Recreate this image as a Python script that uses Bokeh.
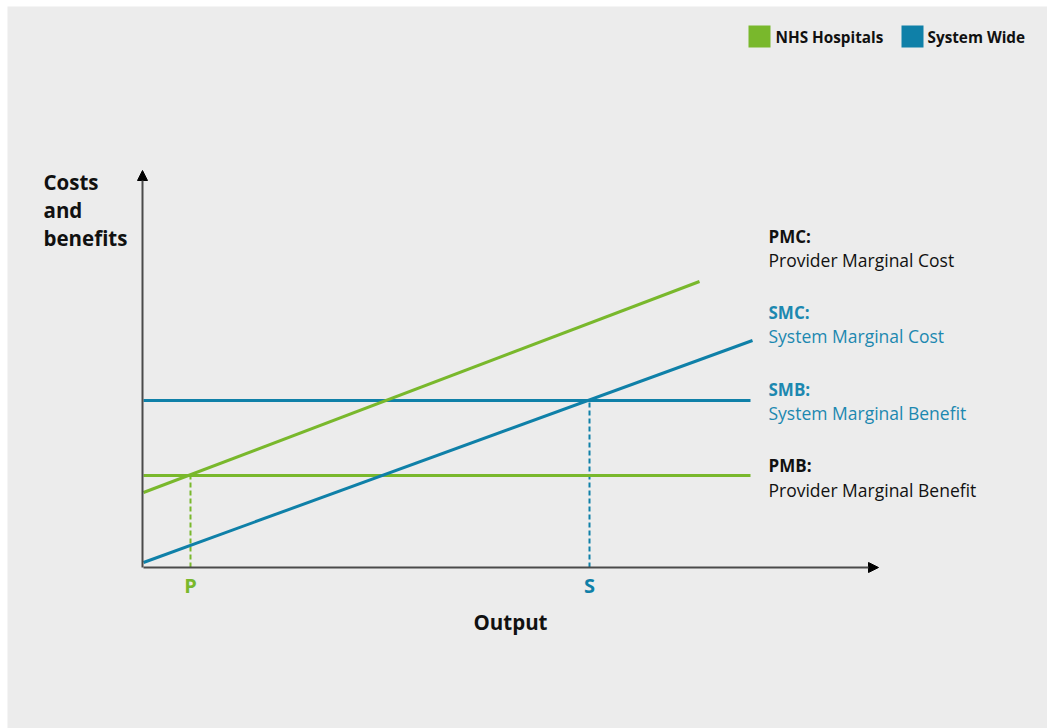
from bokeh.plotting import figure
from bokeh.models import Range1d, Arrow, NormalHead
from bokeh.core.properties import value
from bokeh.embed import file_html
from bokeh.resources import INLINE

# --- curves (output on x, costs/benefits on y) ---
pmc_x = [0.0, 55.6]
pmc_y = [7.5, 28.6]
smc_x = [0.0, 60.9]
smc_y = [0.5, 22.7]
benefit_x = [0.0, 60.7]
smb_level = 16.7
pmb_level = 9.2
p_output = 4.7
s_output = 44.6

curve_codes = ["PMC:", "SMC:", "SMB:", "PMB:"]
curve_names = ["Provider Marginal Cost", "System Marginal Cost",
               "System Marginal Benefit", "Provider Marginal Benefit"]
legend_labels = ["NHS Hospitals", "System Wide"]

GREEN = "#79b82c"
BLUE = "#0f80a8"
BLUE_TEXT = "#1c88b0"
AXIS = "#4a4a4a"
FONT = value("Open Sans")

p = figure(width=1047, height=728, output_backend="svg", toolbar_location=None,
           x_range=Range1d(-13.6, 90.4), y_range=Range1d(-16.1, 56.1),
           min_border_left=7, min_border_top=6, min_border_right=0, min_border_bottom=0)
p.axis.visible = False
p.grid.visible = False
p.outline_line_color = None
p.background_fill_color = "#ececec"
p.border_fill_color = "white"

# axes with arrow heads
p.add_layout(Arrow(end=NormalHead(size=10, fill_color="black", line_color="black"),
                   x_start=0, y_start=0, x_end=73.5, y_end=0,
                   line_color=AXIS, line_width=2))
p.add_layout(Arrow(end=NormalHead(size=10, fill_color="black", line_color="black"),
                   x_start=-0.1, y_start=0, x_end=-0.1, y_end=39.7,
                   line_color=AXIS, line_width=2))

# equilibrium drop lines
p.line([p_output, p_output], [0, pmb_level], line_color=GREEN, line_width=2, line_dash="5 3")
p.line([s_output, s_output], [0, smb_level], line_color=BLUE, line_width=2, line_dash="5 3")

# benefit levels
p.line(benefit_x, [pmb_level, pmb_level], line_color=GREEN, line_width=3)
p.line(benefit_x, [smb_level, smb_level], line_color=BLUE, line_width=3)

# marginal cost curves
p.line(pmc_x, pmc_y, line_color=GREEN, line_width=3)
p.line(smc_x, smc_y, line_color=BLUE, line_width=3)

# curve labels on the right
label_x = 62.5
code_y = [33.1, 25.5, 17.8, 10.2]
name_y = [30.8, 23.2, 15.5, 7.8]
label_colors = ["#111111", BLUE_TEXT, BLUE_TEXT, "#111111"]
p.text(x=[label_x] * 4, y=code_y, text=curve_codes, text_color=label_colors,
       text_font=FONT, text_font_style="bold", text_font_size="17px",
       text_baseline="middle", text_align="left")
p.text(x=[label_x] * 4, y=name_y, text=curve_names, text_color=label_colors,
       text_font=FONT, text_font_size="17.5px",
       text_baseline="middle", text_align="left")

# output markers
p.text(x=[p_output], y=[-1.8], text=["P"], text_color=GREEN, text_font=FONT,
       text_font_style="bold", text_font_size="20px", text_align="center", text_baseline="middle")
p.text(x=[s_output], y=[-1.8], text=["S"], text_color=BLUE, text_font=FONT,
       text_font_style="bold", text_font_size="20px", text_align="center", text_baseline="middle")

# axis titles
p.text(x=[36.7], y=[-5.4], text=["Output"], text_color="#111111", text_font=FONT,
       text_font_style="bold", text_font_size="20.5px", text_align="center", text_baseline="middle")
p.text(x=[-10.0] * 3, y=[38.6, 35.8, 33.0], text=["Costs", "and", "benefits"],
       text_color="#111111", text_font=FONT, text_font_style="bold", text_font_size="20.5px",
       text_align="left", text_baseline="middle")

# legend
p.rect(x=[61.6, 76.9], y=[53.1, 53.1], width=22, height=22, width_units="screen",
       height_units="screen", fill_color=[GREEN, BLUE], line_color=None)
p.text(x=[63.2, 78.4], y=[53.1, 53.1], text=legend_labels, text_color="#111111",
       text_font=FONT, text_font_style="bold", text_font_size="15.3px",
       text_align="left", text_baseline="middle")

open("out.html", "w").write(file_html(p, INLINE))
